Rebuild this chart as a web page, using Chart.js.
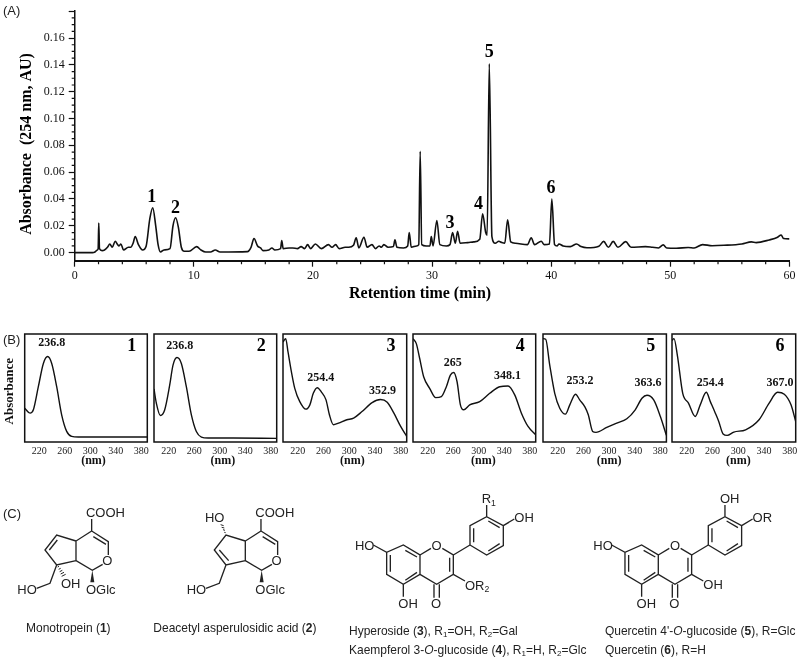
<!DOCTYPE html>
<html>
<head>
<meta charset="utf-8">
<style>
html,body{margin:0;padding:0;background:#fff;width:800px;height:660px;overflow:hidden}
#page{position:relative;width:800px;height:660px;filter:blur(0.35px)}
canvas{position:absolute;display:block}
svg{position:absolute;left:0;top:0}
svg text{font-family:"Liberation Sans",Arial,sans-serif;fill:#222}
</style>
<script src="https://cdn.jsdelivr.net/npm/chart.js@4"></script>
</head>
<body>
<div id="page">
<svg width="800" height="660" viewBox="0 0 800 660">
  <text x="3" y="15" font-size="13" fill="#333">(A)</text>
  <text x="3" y="344" font-size="13" fill="#333">(B)</text>
  <text x="3" y="518" font-size="13" fill="#333">(C)</text>
  <defs>
    <g id="iridoidCore" fill="none" stroke="#222" stroke-width="4">
      <path d="M275 72V108L325 140V180M308 208L277 226L228 197V138L275 108M280 125L318 148M228 138L170 120L135 165L170 210L228 197M170 210L150 265L110 280"/>
      <polygon points="277,226 271,262 283,262" fill="#222" stroke="none"/>
    </g>
    <g id="iridoidText" font-size="39">
      <text x="258" y="66">COOH</text>
      <text x="322" y="211" text-anchor="middle">O</text>
      <text x="52" y="296">HO</text>
      <text x="258" y="297">OGlc</text>
    </g>
    <g id="flavoneCore" fill="none" stroke="#222" stroke-width="4">
      <path d="M130 150L170 172L220 150L270 180V238L220 268L170 238V172M181 180V230M226 166L261 186M226 256L261 232"/>
      <path d="M270 180L303 160M337 160L370 180V238L320 268L270 238M359 188V230"/>
      <path d="M312 268V308M328 268V308M220 268V305M370 238L405 258M370 180L420 150"/>
      <path d="M420 150V92L470 65L520 92V152L470 180L420 150M431 142V100M475 78L509 98M509 146L475 168M470 65V30M520 92L553 72"/>
    </g>
    <g id="flavoneText" font-size="39">
      <text x="75" y="166">HO</text>
      <text x="320" y="166" text-anchor="middle">O</text>
      <text x="205" y="339">OH</text>
      <text x="318" y="339" text-anchor="middle">O</text>
    </g>
  </defs>
  <g transform="translate(0,495) scale(0.3333)">
    <use href="#iridoidCore"/><use href="#iridoidText"/>
    <path d="M172 135L148 165" fill="none" stroke="#222" stroke-width="4"/>
    <path d="M173 216l4 -2M176 223l6 -3M179 230l8 -4M182 237l10 -5M185 244l12 -6" fill="none" stroke="#222" stroke-width="3"/>
    <text x="183" y="279" font-size="39">OH</text>
    <text x="78" y="410" font-size="36">Monotropein (<tspan font-weight="bold">1</tspan>)</text>
    <g transform="translate(508,0)">
      <use href="#iridoidCore"/><use href="#iridoidText"/>
      <path d="M150 165L178 197" fill="none" stroke="#222" stroke-width="4"/>
      <path d="M169 113l-4 -1M167 106l-6 -2M165 99l-8 -2M163 92l-9 -3" fill="none" stroke="#222" stroke-width="3"/>
      <text x="107" y="82" font-size="39">HO</text>
    </g>
    <text x="460" y="410" font-size="36">Deacetyl asperulosidic acid (<tspan font-weight="bold">2</tspan>)</text>
  </g>
  <g transform="translate(330,495) scale(0.3333)">
    <use href="#flavoneCore"/><use href="#flavoneText"/>
    <text x="455" y="24" font-size="39">R<tspan font-size="26" dy="8">1</tspan></text>
    <text x="553" y="81" font-size="39">OH</text>
    <text x="405" y="284" font-size="39">OR<tspan font-size="26" dy="8">2</tspan></text>
    <g transform="translate(715,0)">
      <use href="#flavoneCore"/><use href="#flavoneText"/>
      <text x="455" y="24" font-size="39">OH</text>
      <text x="553" y="81" font-size="39">OR</text>
      <text x="405" y="282" font-size="39">OH</text>
    </g>
    <text x="57" y="420" font-size="36">Hyperoside (<tspan font-weight="bold">3</tspan>), R<tspan font-size="24" dy="6">1</tspan><tspan dy="-6">=OH, R</tspan><tspan font-size="24" dy="6">2</tspan><tspan dy="-6">=Gal</tspan></text>
    <text x="57" y="477" font-size="36">Kaempferol 3-<tspan font-style="italic">O</tspan>-glucoside (<tspan font-weight="bold">4</tspan>), R<tspan font-size="24" dy="6">1</tspan><tspan dy="-6">=H, R</tspan><tspan font-size="24" dy="6">2</tspan><tspan dy="-6">=Glc</tspan></text>
    <text x="825" y="420" font-size="36">Quercetin 4'-<tspan font-style="italic">O</tspan>-glucoside (<tspan font-weight="bold">5</tspan>), R=Glc</text>
    <text x="825" y="477" font-size="36">Quercetin (<tspan font-weight="bold">6</tspan>), R=H</text>
  </g>
</svg>
<canvas id="main" width="800" height="310" style="left:0;top:0"></canvas>
<canvas id="s1" style="top:320px"></canvas>
<canvas id="s2" style="top:320px"></canvas>
<canvas id="s3" style="top:320px"></canvas>
<canvas id="s4" style="top:320px"></canvas>
<canvas id="s5" style="top:320px"></canvas>
<canvas id="s6" style="top:320px"></canvas>
</div>
<script>
// ---------- Panel A data ----------
const retentionTime = [0,1.5,1.7,1.9,1.97,2.02,2.08,2.3,2.5,2.75,2.95,3.15,3.4,3.6,3.72,3.88,4.1,4.5,4.7,4.9,5.08,5.35,5.7,6.0,6.3,6.55,6.8,7.0,7.2,7.5,8.0,8.25,8.47,8.7,8.95,9.2,9.6,10.24,10.6,11,11.4,11.8,12.2,14.5,14.8,15.05,15.35,15.6,15.8,16.3,16.55,16.8,17.28,17.38,17.5,18,18.3,18.7,19,19.3,19.55,19.8,20.2,20.7,21.3,21.6,21.9,22.2,22.7,23,23.4,23.63,23.85,24.28,24.55,24.95,25.25,25.55,25.75,25.95,26.3,26.75,26.88,27.05,27.6,27.95,28.08,28.25,28.7,28.88,29.0,29.13,29.5,29.82,29.93,30.08,30.4,30.65,31.2,31.5,31.72,31.95,32.14,32.35,33,33.5,34,34.24,34.5,34.62,34.8,35.02,35.3,35.6,35.85,36.1,36.34,36.6,37,38,38.32,38.6,39.16,39.4,39.85,40.05,40.28,40.5,40.65,41,41.6,42.13,42.5,43,44,44.4,44.8,45.2,45.6,46.25,46.7,47.9,48.5,49,49.4,49.7,50.5,51.5,52,52.7,53.5,54.5,56,56.8,57.2,58.3,59,59.3,59.5,60];
const absorbance254 = [0,0,.0005,.002,.003,.022,.003,.0015,.002,.004,.0065,.004,.0085,.006,.005,.0065,.002,.004,.004,.007,.012,.006,.002,.005,.025,.0335,.02,.006,.0005,.002,.003,.02,.026,.019,.004,.001,.001,.0045,.002,.0005,.0005,.002,.0005,.0008,.004,.0105,.005,.0035,.0015,.002,.0035,.002,.003,.009,.003,.0035,.0035,.003,.0045,.003,.006,.003,.0065,.003,.006,.004,.006,.003,.004,.004,.0055,.011,.0035,.0115,.004,.006,.003,.005,.004,.006,.004,.0045,.0095,.004,.0035,.005,.015,.004,.005,.006,.0755,.006,.005,.005,.012,.005,.024,.006,.005,.006,.015,.007,.016,.007,.0075,.008,.01,.029,.015,.013,.1408,.012,.007,.0085,.0075,.007,.0245,.008,.007,.006,.011,.006,.0085,.006,.0065,.04,.006,.005,.0065,.005,.0045,.0065,.0045,.0036,.0048,.0084,.004,.0084,.004,.0082,.004,.0045,.004,.0035,.0058,.0035,.0033,.0038,.0035,.006,.0052,.0055,.0065,.008,.0075,.0095,.0115,.0132,.0105,.0103];
const timeMinorTicks = [0,2,4,6,8,10,12,14,16,18,20,22,24,26,28,30,32,34,36,38,40,42,44,46,48,50,52,54,56,58,60];
const absorbanceTicks = [0,.005,.01,.015,.02,.025,.03,.035,.04,.045,.05,.055,.06,.065,.07,.075,.08,.085,.09,.095,.1,.105,.11,.115,.12,.125,.13,.135,.14,.145,.15,.155,.16,.165,.17,.175,.18];
const peakNames = ['1','2','3','4','5','6'];
const peakLabelTime = [6.46,8.47,31.5,33.9,34.8,39.97];
const peakLabelAbs = [.0414,.0334,.0219,.0358,.1497,.048];

// ---------- Panel B data ----------
const wavelength1 = [197,205.4,210.6,218.4,226.3,233,239.4,247.2,255,262.9,270.7,281.2,315,389.4];
const spectrum1 = [31.3,26.7,29.8,51.2,72.7,79.1,72.7,51.2,25.2,9.8,5.2,4.6,4.6,4.6];
const wavelength2 = [197,200.7,207,213.7,221.6,226.8,233,239.9,247.7,255.6,263.4,271.3,281.8,321,389.4];
const spectrum2 = [49.1,35.9,24.5,29.6,52.6,71.2,78.2,72.7,51.2,25.2,9.8,4.6,3.7,3.7,3.4];
const wavelength3 = [197,201.2,204.8,210.1,215.3,223.1,232.6,238.8,244.1,250.3,257.1,263.9,269.2,275.4,283.3,296.3,306.8,319.9,335.6,348.6,359.1,369.5,380,389.4];
const spectrum3 = [92.6,95.7,83.4,65,49.7,37.4,30.4,34.4,45.1,50.3,46,39,25.2,16,17.5,20.6,22.1,28.2,36.5,39.3,36.8,26.7,14.4,5.2];
const wavelength4 = [197,202.2,207.5,213.7,223.1,232.6,241.5,249.3,255.6,260.8,266.1,271.3,276.5,285.9,301.6,317.3,333,346,356.5,367,377.4,389.4];
const spectrum4 = [95.7,91.1,77.3,60.4,49.7,41.1,42,51.2,61.9,64.4,55.8,34.4,29.8,34.4,37.4,45.1,51.2,51.8,43.6,26.7,14.4,6.7];
const wavelength5 = [197,201.2,207.5,215.3,223.1,232,238.8,247.7,254.5,262.3,267.6,274.4,279.6,296.4,312,327.7,340.8,351.3,359.1,369.6,380,389.4];
const spectrum5 = [95.7,95.1,71.2,45.1,31.3,25.8,34.4,44.2,38.7,32.5,25.2,9.8,8.9,13.5,17.5,21.5,29.8,40.5,43.3,39,23.6,6.1];
const wavelength6 = [197,200.1,205.4,213.7,222.6,233.1,240.9,250.3,256.6,264.4,269.7,276.5,282.8,293.2,311.5,332.4,348.1,361.2,371.7,382.1,389.4];
const spectrum6 = [94,95.7,80,45,36,23.6,34.4,46,37.4,26.7,19,7.4,6.1,9.2,11.3,20.6,36,46,44.2,34.4,19];
const wavelengthTicks = [220,260,300,340,380];
const compoundNames = ['1','2','3','4','5','6'];
const maximaText = [['236.8'],['236.8'],['254.4','352.9'],['265','348.1'],['253.2','363.6'],['254.4','367.0']];
const maximaLabelNm = [[239.4],[237.3],[255.7,351.8],[259.3,345],[254.6,360.8],[256.6,364.8]];
const maximaLabelAbs = [[91.7],[88.9],[59.3,47.5],[73.4,61.1],[56.5,54.4],[54.4,54.4]];

// ---------- layout / style ----------
const SERIF = '"Liberation Serif","Times New Roman",serif';
const INK = '#111';

const minorTicksPlugin = {
  id:'minorTicks',
  afterDatasetsDraw(c){
    const g=c.ctx, x=c.scales.x, y=c.scales.y;
    g.save(); g.strokeStyle=INK; g.lineWidth=1.2; g.beginPath();
    x.ticks.forEach(t=>{ if(t.value%10!==0){const p=x.getPixelForValue(t.value); g.moveTo(p,c.chartArea.bottom); g.lineTo(p,c.chartArea.bottom+3.5);} });
    y.ticks.forEach(t=>{ if(Math.round(t.value*1000)%20!==0){const p=y.getPixelForValue(t.value); g.moveTo(c.chartArea.left,p); g.lineTo(c.chartArea.left-3,p);} });
    g.stroke();
    g.font='bold 18px '+SERIF; g.fillStyle='#000'; g.textAlign='center'; g.textBaseline='middle';
    peakNames.forEach((n,i)=>g.fillText(n,x.getPixelForValue(peakLabelTime[i]),y.getPixelForValue(peakLabelAbs[i])));
    g.restore();
  }
};

new Chart(document.getElementById('main'),{
  type:'line',
  data:{datasets:[{data:retentionTime.map((t,i)=>({x:t,y:absorbance254[i]})),borderColor:INK,borderWidth:1.6,pointRadius:0,cubicInterpolationMode:'monotone',fill:false}]},
  options:{
    responsive:false,animation:false,
    layout:{autoPadding:false,padding:{left:0,top:3,right:10.5,bottom:0}},
    plugins:{legend:{display:false},tooltip:{enabled:false}},
    scales:{
      x:{type:'linear',min:0,max:60,
        afterFit(s){s.height=49.3;},
        afterBuildTicks(s){s.ticks=timeMinorTicks.map(v=>({value:v}));},
        border:{display:true,color:INK,width:2},
        grid:{drawOnChartArea:false,drawTicks:true,tickLength:6,tickWidth:1.2,tickColor:ctx=>ctx.tick&&ctx.tick.value%10===0?INK:'rgba(0,0,0,0)'},
        ticks:{autoSkip:false,maxRotation:0,color:'#111',padding:2,font:{family:SERIF,size:12},callback:v=>v%10===0?String(v):''},
        title:{display:true,text:'Retention time (min)      ',color:'#000',font:{family:SERIF,size:16,weight:'bold'},padding:{top:0,bottom:7}}
      },
      y:{type:'linear',min:-0.006,max:0.18,
        afterFit(s){s.width=74.7;},
        afterBuildTicks(s){s.ticks=absorbanceTicks.map(v=>({value:v}));},
        border:{display:true,color:INK,width:1.5},
        grid:{drawOnChartArea:false,drawTicks:true,tickLength:6,tickWidth:1.2,tickColor:ctx=>ctx.tick&&Math.round(ctx.tick.value*1000)%20===0?INK:'rgba(0,0,0,0)'},
        ticks:{autoSkip:false,color:'#111',padding:4,font:{family:SERIF,size:12},callback:v=>{const m=Math.round(v*1000);return m%20===0&&m<=160?(m/1000).toFixed(2):'';}},
        title:{display:true,text:'Absorbance  (254 nm, AU)    ',color:'#000',font:{family:SERIF,size:16,weight:'bold'},padding:{top:17,bottom:0}}
      }
    }
  },
  plugins:[minorTicksPlugin]
});

const boxLeft = [24.7,154.3,283.3,413.3,543.3,672];
const boxRight = [147.3,277,407,536,666.7,795.7];
const nmTitles = ['     (nm)','     (nm)','     (nm)','      (nm)','   (nm)','   (nm)'];
const wl=[wavelength1,wavelength2,wavelength3,wavelength4,wavelength5,wavelength6];
const sp=[spectrum1,spectrum2,spectrum3,spectrum4,spectrum5,spectrum6];

const spectrumPlugin = {
  id:'spectrumDecor',
  afterDatasetsDraw(c,args,o){
    const g=c.ctx,a=c.chartArea,x=c.scales.x,y=c.scales.y,i=o.index;
    g.save(); g.strokeStyle='#111'; g.lineWidth=1.5; g.strokeRect(a.left,a.top,a.right-a.left,a.bottom-a.top);
    g.fillStyle='#111'; g.textAlign='center'; g.textBaseline='middle';
    g.font='bold 12px '+SERIF;
    maximaText[i].forEach((t,k)=>g.fillText(t,x.getPixelForValue(maximaLabelNm[i][k]),y.getPixelForValue(maximaLabelAbs[i][k])));
    g.font='bold 18px '+SERIF; g.fillStyle='#000';
    g.fillText(compoundNames[i],x.getPixelForValue(365),y.getPixelForValue(89));
    g.restore();
  }
};

boxLeft.forEach((bl,i)=>{
  const el=document.getElementById('s'+(i+1));
  const canvasLeft = i===0?0:bl-8;
  const w = boxRight[i]+5-canvasLeft;
  el.width=Math.ceil(w); el.height=150; el.style.left=canvasLeft+'px';
  new Chart(el,{
    type:'line',
    data:{datasets:[{data:wl[i].map((n,k)=>({x:n,y:sp[i][k]})),borderColor:INK,borderWidth:1.4,pointRadius:0,cubicInterpolationMode:'monotone',fill:false}]},
    options:{
      responsive:false,animation:false,
      layout:{autoPadding:false,padding:{left:i===0?0:bl-canvasLeft,top:14,right:el.width-(boxRight[i]-canvasLeft),bottom:0}},
      plugins:{legend:{display:false},tooltip:{enabled:false},spectrumDecor:{index:i}},
      scales:{
        x:{type:'linear',min:197,max:389.4,
          afterFit(s){s.height=28;},
          afterBuildTicks(s){s.ticks=wavelengthTicks.map(v=>({value:v}));},
          border:{display:false},
          grid:{display:false,drawTicks:false},
          ticks:{autoSkip:false,maxRotation:0,color:'#222',padding:3,font:{family:SERIF,size:10}},
          title:{display:true,text:nmTitles[i],color:'#111',font:{family:SERIF,size:12,weight:'bold'},padding:{top:0,bottom:2}}
        },
        y:{type:'linear',min:0,max:100,display:i===0,
          afterFit(s){s.width=i===0?bl:0;},
          border:{display:false},grid:{display:false},ticks:{display:false},
          title:{display:i===0,text:'Absorbance  ',color:'#111',font:{family:SERIF,size:13,weight:'bold'},padding:{top:2,bottom:0}}
        }
      }
    },
    plugins:[spectrumPlugin]
  });
});
</script>
</body>
</html>
